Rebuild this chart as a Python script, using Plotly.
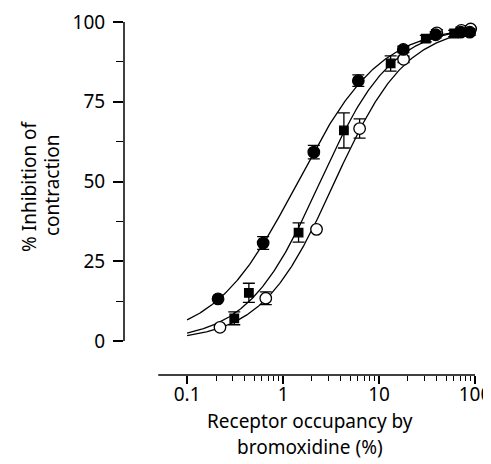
import numpy as np
import plotly.graph_objects as go

# Filled circles
fc_x = [0.21, 0.62, 2.09, 6.08, 17.9, 38.9, 71.0, 88.0]
fc_y = [13.2, 30.7, 59.2, 81.6, 91.4, 96.0, 96.8, 96.8]
fc_e = [0.0, 2.0, 2.1, 1.8, 1.0, 1.0, 1.0, 1.0]
# Filled squares
sq_x = [0.31, 0.44, 1.45, 4.3, 13.2, 30.7, 60.6, 85.0]
sq_y = [7.1, 15.1, 34.0, 66.0, 87.0, 94.8, 96.4, 96.8]
sq_e = [2.0, 3.0, 3.0, 5.5, 2.4, 1.0, 1.0, 1.0]
# Open circles
oc_x = [0.22, 0.66, 2.23, 6.27, 18.0, 40.0, 72.0, 90.0]
oc_y = [4.3, 13.4, 35.0, 66.6, 88.3, 96.6, 97.4, 97.8]
oc_e = [0.0, 2.0, 0.0, 3.0, 1.0, 1.0, 1.0, 1.0]

# Fitted Hill curve parameters (EC50, slope, top)
fc_fit = (1.4, 1.0, 99.0)
sq_fit = (2.4, 1.15, 99.0)
oc_fit = (3.4, 1.15, 99.0)

x_tick_vals = [0.1, 1, 10, 100]
x_tick_text = ["0.1", "1", "10", "100"]
y_tick_vals = [0, 25, 50, 75, 100]

# page has an 8px body margin: figure coords = page coords - 8
OFF = 8
X_LO, X_HI = np.log10(0.022), 2.01
Y_LO, Y_HI = -10.66, 100
L, R, T, B = 124 - OFF, 476 - OFF, 22 - OFF, 375 - OFF
W, H = 491, 464

def fx(v):
    return (np.log10(v) - X_LO) / (X_HI - X_LO)

def px2x(p):
    return (p - OFF - L) / (R - L)

def px2y(p):
    return (B - (p - OFF)) / (B - T)

fig = go.Figure()
xs = np.logspace(np.log10(0.1), np.log10(100), 300)
for ec50, n, top in (fc_fit, sq_fit, oc_fit):
    fig.add_trace(go.Scatter(x=xs, y=top / (1 + (ec50 / xs) ** n), mode="lines",
                             line=dict(color="black", width=1.3), showlegend=False,
                             hoverinfo="skip", cliponaxis=False))

def add_pts(x, y, e, symbol, size, fill):
    fig.add_trace(go.Scatter(
        x=x, y=y, mode="markers", cliponaxis=False, showlegend=False,
        marker=dict(symbol=symbol, size=size, color=fill, line=dict(color="black", width=1.3)),
        error_y=dict(type="data", array=e, color="black", thickness=1.3, width=6)))

add_pts(sq_x, sq_y, sq_e, "square", 8.5, "black")
add_pts(oc_x, oc_y, oc_e, "circle", 11.5, "white")
add_pts(fc_x, fc_y, fc_e, "circle", 11.5, "black")

font = "Noto Sans"
FS = 19
tfont = dict(family=font, size=FS, color="black")
fig.update_layout(
    width=W, height=H,
    margin=dict(l=L, r=W - R, t=T, b=H - B, autoexpand=False),
    paper_bgcolor="white", plot_bgcolor="white",
    font=tfont,
    xaxis=dict(type="log", range=[X_LO, X_HI], showgrid=False, zeroline=False,
               showline=False, automargin=False, ticks="outside", ticklen=8, tickwidth=1.5,
               tickcolor="black", tickvals=x_tick_vals, ticktext=x_tick_text,
               ticklabelstandoff=-6, tickfont=tfont,
               minor=dict(ticks="outside", ticklen=5, tickwidth=1.3, tickcolor="black",
                          tickvals=[m * d for d in (0.1, 1, 10) for m in range(2, 10)],
                          showgrid=False)),
    yaxis=dict(range=[Y_LO, Y_HI], showgrid=False, zeroline=False, showline=False,
               automargin=False, ticks="outside", ticklen=10, tickwidth=1.5, tickcolor="black",
               tickvals=y_tick_vals, ticklabelstandoff=4, tickfont=tfont,
               minor=dict(ticks="outside", ticklen=7, tickwidth=1.3, tickcolor="black",
                          tickvals=[12.5, 37.5, 62.5, 87.5], showgrid=False)),
    shapes=[
        dict(type="line", xref="paper", yref="y", x0=0, x1=0, y0=0, y1=100,
             line=dict(color="black", width=1.5)),
        dict(type="line", xref="paper", yref="paper", x0=fx(0.05), x1=fx(100),
             y0=0, y1=0, line=dict(color="black", width=1.5)),
    ],
    annotations=[
        dict(text="Receptor occupancy by", xref="paper", yref="paper", font=tfont,
             x=px2x(310), y=px2y(421), showarrow=False, xanchor="center", yanchor="middle"),
        dict(text="bromoxidine (%)", xref="paper", yref="paper", font=tfont,
             x=px2x(310), y=px2y(447), showarrow=False, xanchor="center", yanchor="middle"),
        dict(text="% Inhibition of", xref="paper", yref="paper", textangle=-90, font=tfont,
             x=px2x(29), y=px2y(186), showarrow=False, xanchor="center", yanchor="middle"),
        dict(text="contraction", xref="paper", yref="paper", textangle=-90, font=tfont,
             x=px2x(52), y=px2y(186), showarrow=False, xanchor="center", yanchor="middle"),
    ],
)
fig.write_html("out.html")
